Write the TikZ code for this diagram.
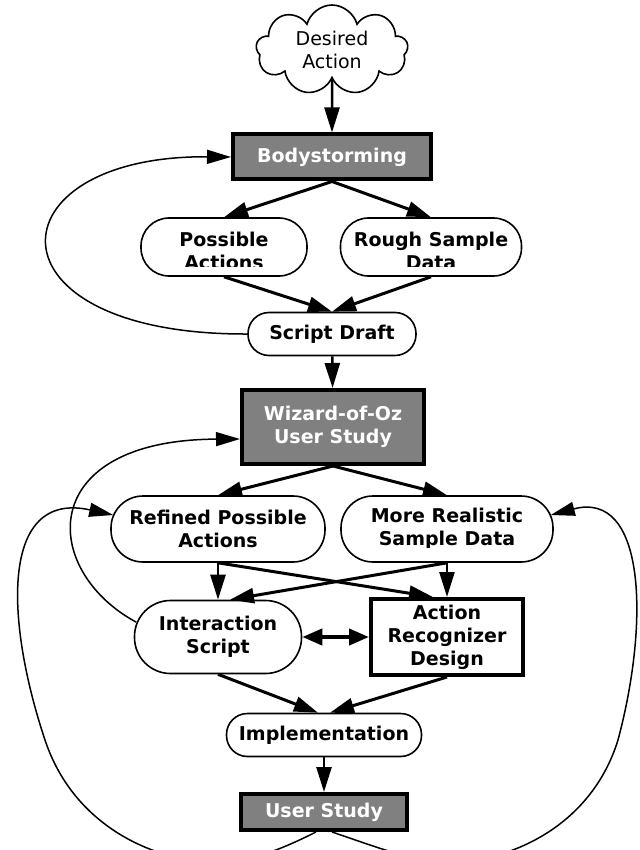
\documentclass[tikz,border=0pt]{standalone}
\usepackage{fontspec}
\setmainfont{DejaVu Sans}
\usetikzlibrary{shapes.symbols,arrows.meta}
\definecolor{boxgray}{HTML}{808080}

\begin{document}
\begin{tikzpicture}
[x=1pt,y=-1pt,
 every node/.style={font=\fontsize{19}{23}\selectfont\bfseries,align=center},
 pill/.style={rectangle,draw,line width=1.6pt,fill=white,rounded corners=#1},
 study/.style={rectangle,draw,line width=4pt,fill=boxgray,text=white},
 design/.style={rectangle,draw,line width=4pt,fill=white},
 flow/.style={line width=3pt,-{Triangle[length=24pt,width=15pt]}},
 down/.style={line width=2.5pt,-{Triangle[length=25pt,width=15pt]}},
 back/.style={line width=1.5pt,-{Triangle[length=24pt,width=14pt]}},
 both/.style={line width=4pt,{Triangle[length=20pt,width=16pt]}-{Triangle[length=20pt,width=16pt]}}]
\useasboundingbox (0,0) rectangle (639,850);
\clip (0,0) rectangle (639,850);
\node[cloud,cloud puffs=9,draw,line width=1.6pt,fill=white,font=\fontsize{19}{23}\selectfont,
  minimum width=152pt,minimum height=90pt,inner sep=0pt,cloud ignores aspect] (da) at (332,50) {Desired\\Action};
\node[study,minimum width=198pt,minimum height=45pt] (bs) at (332,157) {Bodystorming};
\node[pill=28pt,minimum width=166pt,minimum height=58pt] (pa) at (224,247) {};
\node[pill=28pt,minimum width=181pt,minimum height=58pt] (rs) at (431,247) {};
\begin{scope}
\clip (130,200) rectangle (530,266);
\node (patext) at (224,251) {Possible\\Actions};
\node (rstext) at (431,251) {Rough Sample\\Data};
\end{scope}
\node[pill=21pt,minimum width=168pt,minimum height=43pt] (sd) at (332,334) {Script Draft};
\node[study,minimum width=182pt,minimum height=74pt] (woz) at (333,427) {Wizard-of-Oz\\User Study};
\node[pill=32pt,minimum width=214pt,minimum height=66pt] (rpa) at (218,529) {Refined Possible\\Actions};
\node[pill=32pt,minimum width=212pt,minimum height=66pt] (mrs) at (447,529) {};
\begin{scope}
\clip (340,490) rectangle (560,547);
\node (mrstext) at (447,529) {More Realistic\\Sample Data};
\end{scope}
\node[pill=36pt,minimum width=167pt,minimum height=73pt] (is) at (218,637) {Interaction\\Script};
\node[design,minimum width=152pt,minimum height=76pt] (ard) at (447,637) {Action\\Recognizer\\Design};
\node[pill=21pt,minimum width=195pt,minimum height=43pt] (impl) at (324,735) {Implementation};
\node[study,minimum width=166pt,minimum height=36pt] (us) at (324,812) {User Study};

\draw[down] (da) -- (bs);
\draw[flow] (bs.south) -- (pa.north);
\draw[flow] (bs.south) -- (rs.north);
\draw[flow] (pa.south) -- (sd.north);
\draw[flow] (rs.south) -- (sd.north);
\draw[down] (sd) -- (woz);
\draw[flow] (woz.south) -- (rpa.north);
\draw[flow] (woz.south) -- (mrs.north);
\draw[down] (rpa) -- (is);
\draw[flow] (rpa.south) -- ([xshift=-14pt]ard.north);
\draw[flow] (mrs.south) -- ([xshift=12pt]is.north);
\draw[down] (mrs) -- (ard);
\draw[both] (is) -- (ard);
\draw[flow] (is.south) -- ([xshift=-6pt]impl.north);
\draw[flow] (ard.south) -- ([xshift=6pt]impl.north);
\draw[down] (impl) -- (us);

\draw[back] (sd.west) .. controls (-20,335) and (-10,155) .. (bs.west);
\draw[back] ([xshift=2.5pt]is.170) .. controls (40,570) and (35,440) .. ([yshift=-12pt]woz.west);
\draw[back] ([xshift=-8pt]us.south) .. controls (280,850) and (250,862) .. (215,862)
  .. controls (160,862) and (75,830) .. (45,740) .. controls (5,620) and (0,490) .. ([shift={(3pt,14pt)}]rpa.west);
\draw[back] ([xshift=8pt]us.south) .. controls (385,850) and (415,862) .. (450,862)
  .. controls (505,862) and (590,830) .. (618,740) .. controls (650,620) and (645,490) .. ([shift={(-3pt,14pt)}]mrs.east);
\end{tikzpicture}
\end{document}
